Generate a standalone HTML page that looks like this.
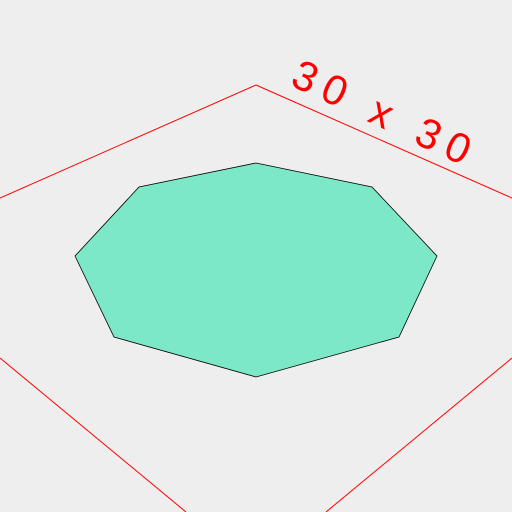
<!DOCTYPE html>
<html><head><meta charset="utf-8"><style>
html,body{margin:0;padding:0;background:#eeeeee;width:512px;height:512px;overflow:hidden}
svg{display:block}
</style></head><body>
<svg width="512" height="512" viewBox="0 0 512 512">
<rect x="0" y="0" width="512" height="512" fill="#eeeeee"/>
<g stroke="#ff0000" stroke-width="1" fill="none">
<line x1="256" y1="85" x2="0" y2="198"/>
<line x1="256" y1="85" x2="512" y2="198"/>
<line x1="0" y1="358" x2="186" y2="512"/>
<line x1="512" y1="358" x2="326" y2="512"/>
</g>
<polygon id="oct" fill="#7de8c8" stroke="#000" stroke-width="0.8"/>
<text x="384" y="128" fill="#ff0000" font-family="Liberation Sans, sans-serif" font-size="42" font-weight="100" text-anchor="middle" letter-spacing="9" transform="rotate(25 384 118)">30 x 30</text>
</svg>
<script>
const vx=[256,372,437,399,256,114,75,139];
const vy=[163,187,256,337,377,337,256,187];
document.getElementById('oct').setAttribute('points',vx.map((x,i)=>x+','+vy[i]).join(' '));
</script>
</body></html>
